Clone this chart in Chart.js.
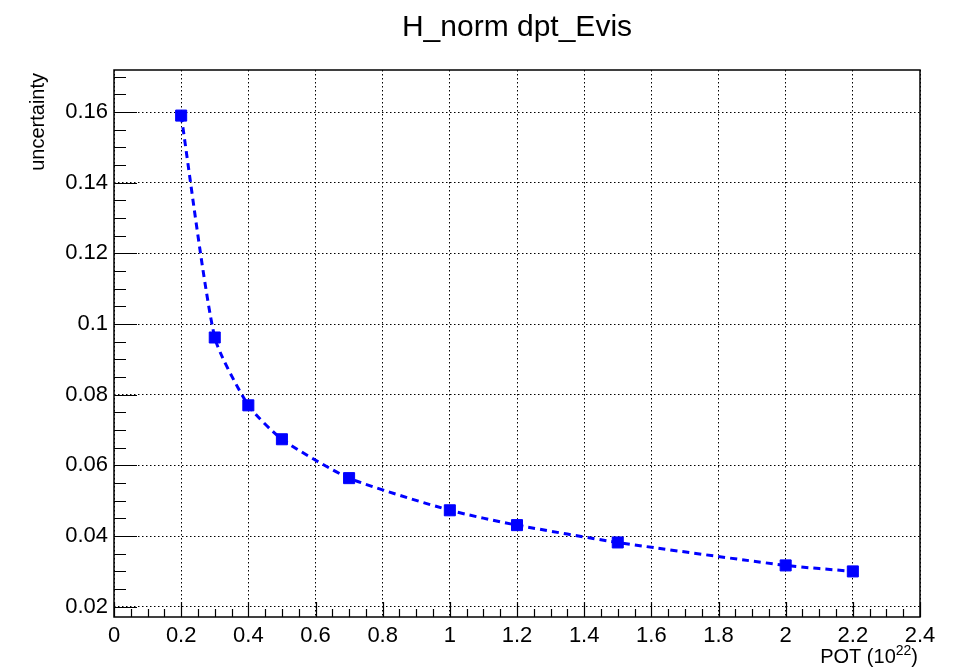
<!DOCTYPE html>
<html>
<head>
<meta charset="utf-8">
<script src="https://cdn.jsdelivr.net/npm/chart.js@4/dist/chart.umd.min.js"></script>
<style>
  html, body { margin: 0; padding: 0; background: #fff; }
  #wrap { width: 958px; height: 671px; }
</style>
</head>
<body>
<div id="wrap"><canvas id="c" width="958" height="671"></canvas></div>
<script>
// ---- data ----
const potValues = [0.2, 0.3, 0.4, 0.5, 0.7, 1.0, 1.2, 1.5, 2.0, 2.2];
const uncertaintyValues = [0.1590, 0.0962, 0.0770, 0.0674, 0.0564, 0.0473, 0.0431, 0.0382, 0.0317, 0.0300];
const xTickValues = [0, 0.2, 0.4, 0.6, 0.8, 1.0, 1.2, 1.4, 1.6, 1.8, 2.0, 2.2, 2.4];
const yTickValues = [0.02, 0.04, 0.06, 0.08, 0.10, 0.12, 0.14, 0.16];
const xRange = [0, 2.4];
const yRange = [0.0171, 0.1719];
const chartTitle = "H_norm dpt_Evis";
const yTitle = "uncertainty";
const xTitleMain = "POT (10";
const xTitleSup = "22";
const xTitleEnd = ")";

const FONT = "'Liberation Sans', Arial, Helvetica, sans-serif";

const rootStyle = {
  id: 'rootStyle',
  afterDraw(chart) {
    const ctx = chart.ctx;
    const a = chart.chartArea;
    const xs = chart.scales.x, ys = chart.scales.y;
    ctx.save();
    ctx.strokeStyle = '#000';
    ctx.setLineDash([]);
    // frame
    ctx.lineWidth = 1.5;
    ctx.strokeRect(a.left, a.top, a.right - a.left, a.bottom - a.top);
    // x ticks (inward, bottom)
    ctx.lineWidth = 1.2;
    ctx.beginPath();
    for (let i = 0; i <= 48; i++) {
      const v = xRange[0] + i * 0.05;
      if (v > xRange[1] + 1e-9) break;
      const px = Math.round(xs.getPixelForValue(v)) + 0.5;
      const len = (i % 4 === 0) ? 15 : 8;
      ctx.moveTo(px, a.bottom);
      ctx.lineTo(px, a.bottom - len);
    }
    // y ticks (inward, left)
    for (let i = 0; i < 40; i++) {
      const v = 0.015 + i * 0.005;
      if (v > yRange[1]) break;
      if (v < yRange[0]) continue;
      const py = Math.round(ys.getPixelForValue(v)) + 0.5;
      const major = Math.abs(Math.round(v * 1000) % 20) === 0;
      const len = major ? 23 : 12;
      ctx.moveTo(a.left, py);
      ctx.lineTo(a.left + len, py);
    }
    ctx.stroke();

    // titles
    ctx.fillStyle = '#000';
    ctx.font = '30px ' + FONT;
    ctx.textAlign = 'center';
    ctx.textBaseline = 'alphabetic';
    ctx.fillText(chartTitle, (a.left + a.right) / 2, 36);

    // y title
    ctx.save();
    ctx.translate(44, a.top + 3);
    ctx.rotate(-Math.PI / 2);
    ctx.font = '20px ' + FONT;
    ctx.textAlign = 'right';
    ctx.textBaseline = 'alphabetic';
    ctx.fillText(yTitle, 0, 0);
    ctx.restore();

    // x title with superscript, right aligned at chart right
    ctx.font = '20px ' + FONT;
    const wEnd = ctx.measureText(xTitleEnd).width;
    ctx.font = '14px ' + FONT;
    const wSup = ctx.measureText(xTitleSup).width;
    ctx.font = '20px ' + FONT;
    const wMain = ctx.measureText(xTitleMain).width;
    let xr = a.right - 2;
    const base = 663;
    ctx.textAlign = 'left';
    ctx.fillText(xTitleEnd, xr - wEnd, base);
    ctx.font = '14px ' + FONT;
    ctx.fillText(xTitleSup, xr - wEnd - wSup, base - 8);
    ctx.font = '20px ' + FONT;
    ctx.fillText(xTitleMain, xr - wEnd - wSup - wMain, base);
    ctx.restore();
  }
};

new Chart(document.getElementById('c'), {
  type: 'line',
  data: {
    datasets: [{
      data: potValues.map((x, i) => ({ x: x, y: uncertaintyValues[i] })),
      borderColor: '#0000ff',
      backgroundColor: '#0000ff',
      borderWidth: 3,
      borderDash: [7, 5],
      tension: 0.2,
      pointStyle: 'rect',
      pointRadius: 7.8,
      pointBorderWidth: 1,
      pointBackgroundColor: '#0000ff',
      pointBorderColor: '#0000ff',
      fill: false
    }]
  },
  plugins: [rootStyle],
  options: {
    responsive: false,
    animation: false,
    devicePixelRatio: 1,
    layout: { padding: { top: 70, right: 38, left: 0, bottom: 0 } },
    plugins: { legend: { display: false }, title: { display: false }, tooltip: { enabled: false } },
    scales: {
      x: {
        type: 'linear',
        min: xRange[0], max: xRange[1],
        afterBuildTicks(scale) { scale.ticks = xTickValues.map(v => ({ value: v })); },
        afterFit(scale) { scale.height = 54; },
        border: { display: false, dash: [1.5, 2.5] },
        grid: { color: '#000', lineWidth: 1, drawTicks: false },
        ticks: {
          color: '#000', padding: 6, maxRotation: 0, autoSkip: false,
          font: { family: FONT, size: 22 },
          callback: v => String(Math.round(v * 100) / 100)
        }
      },
      y: {
        type: 'linear',
        min: yRange[0], max: yRange[1],
        afterBuildTicks(scale) { scale.ticks = yTickValues.map(v => ({ value: v })); },
        afterFit(scale) { scale.width = 114; },
        border: { display: false, dash: [1.5, 2.5] },
        grid: { color: '#000', lineWidth: 1, drawTicks: false },
        ticks: {
          color: '#000', padding: 6, autoSkip: false,
          font: { family: FONT, size: 22 },
          callback: v => String(Math.round(v * 1000) / 1000)
        }
      }
    }
  }
});
</script>
</body>
</html>
